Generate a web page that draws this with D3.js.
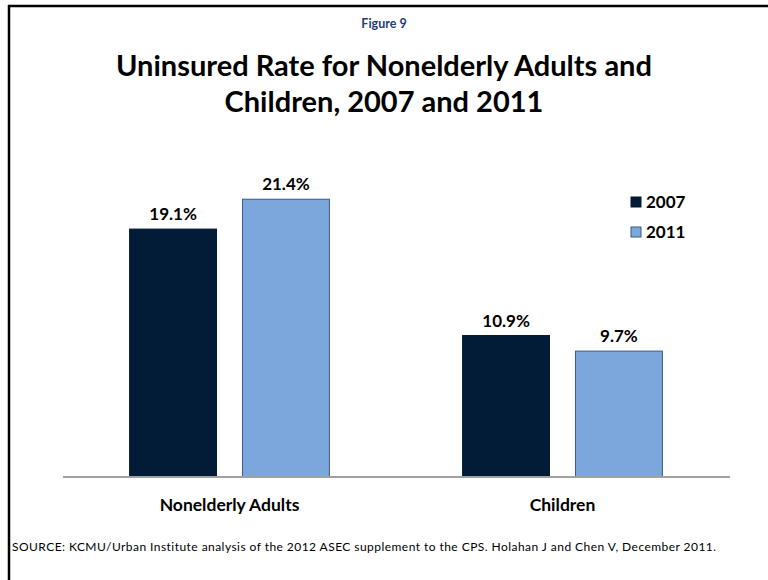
<!DOCTYPE html>
<html>
<head>
<meta charset="utf-8">
<script src="https://cdn.jsdelivr.net/npm/d3@7"></script>
<style>
  html, body { margin: 0; padding: 0; background: #fff; }
  svg { display: block; font-family: Lato, "Open Sans", sans-serif; }
</style>
</head>
<body>
<svg id="chart" width="768" height="580"></svg>
<script>
const categories = ["Nonelderly Adults", "Children"];
const series = ["2007", "2011"];
const values2007 = [19.1, 10.9];
const values2011 = [21.4, 9.7];
const valueLabels2007 = ["19.1%", "10.9%"];
const valueLabels2011 = ["21.4%", "9.7%"];
const colors = { "2007": "#021b37", "2011": "#7ba7dc" };
const strokes = { "2007": "#021b37", "2011": "#3d5a80" };

const data = categories.map((c, i) => ({
  category: c,
  bars: [
    { series: "2007", value: values2007[i], label: valueLabels2007[i] },
    { series: "2011", value: values2011[i], label: valueLabels2011[i] }
  ]
}));

const svg = d3.select("#chart");

// frame (top and left edges visible)
svg.append("line").attr("x1", 8).attr("x2", 768).attr("y1", 6).attr("y2", 6)
  .attr("stroke", "#000").attr("stroke-width", 2.5);
svg.append("line").attr("x1", 9).attr("x2", 9).attr("y1", 5).attr("y2", 580)
  .attr("stroke", "#000").attr("stroke-width", 2.5);

// titles
svg.append("text").attr("x", 384).attr("y", 28).attr("text-anchor", "middle")
  .attr("font-size", 12.5).attr("font-weight", 700).attr("fill", "#1f3d7a")
  .text("Figure 9");
svg.append("text").attr("x", 384).attr("y", 76).attr("text-anchor", "middle")
  .attr("font-size", 29).attr("font-weight", 700).attr("fill", "#000")
  .text("Uninsured Rate for Nonelderly Adults and");
svg.append("text").attr("x", 384).attr("y", 112).attr("text-anchor", "middle")
  .attr("font-size", 29).attr("font-weight", 700).attr("fill", "#000")
  .text("Children, 2007 and 2011");

// scales
const x0 = d3.scaleBand().domain(categories).range([63, 729])
  .paddingInner(0.4).paddingOuter(0.2);
const x1 = d3.scaleBand().domain(series).range([0, x0.bandwidth()])
  .paddingInner(0.23).paddingOuter(0);
const y = d3.scaleLinear().domain([0, 25]).range([477, 152.5]);

const groups = svg.append("g").selectAll("g").data(data).join("g")
  .attr("transform", d => `translate(${x0(d.category)},0)`);

groups.selectAll("rect").data(d => d.bars).join("rect")
  .attr("x", d => x1(d.series))
  .attr("y", d => y(d.value))
  .attr("width", x1.bandwidth())
  .attr("height", d => y(0) - y(d.value))
  .attr("fill", d => colors[d.series])
  .attr("stroke", d => strokes[d.series])
  .attr("stroke-width", 1);

groups.selectAll("text.val").data(d => d.bars).join("text")
  .attr("class", "val")
  .attr("x", d => x1(d.series) + x1.bandwidth() / 2)
  .attr("y", d => y(d.value) - 9)
  .attr("text-anchor", "middle")
  .attr("font-size", 17).attr("font-weight", 700).attr("fill", "#000")
  .text(d => d.label);

// x axis
const xAxis = svg.append("g").attr("transform", `translate(0,${y(0)})`)
  .call(d3.axisBottom(x0).tickSize(0).tickPadding(22));
xAxis.select(".domain").attr("stroke", "#a0a0a0").attr("stroke-width", 2)
  .attr("d", `M63,0H730`);
xAxis.selectAll(".tick text").attr("font-size", 17.5).attr("font-weight", 700)
  .attr("fill", "#000").attr("font-family", "Lato, 'Open Sans', sans-serif");

// legend
const legend = svg.append("g").selectAll("g").data(series).join("g")
  .attr("transform", (d, i) => `translate(631,${197 + i * 30})`);
legend.append("rect").attr("width", 10).attr("height", 10)
  .attr("fill", d => colors[d]).attr("stroke", d => strokes[d]).attr("stroke-width", 1);
legend.append("text").attr("x", 15).attr("y", 11)
  .attr("font-size", 17).attr("font-weight", 700).attr("fill", "#000")
  .text(d => d);

// source
svg.append("text").attr("x", 12).attr("y", 551)
  .attr("font-size", 12).attr("letter-spacing", 0.45).attr("fill", "#000")
  .text("SOURCE: KCMU/Urban Institute analysis of the 2012 ASEC supplement to the CPS. Holahan J and Chen V, December 2011.");
</script>
</body>
</html>
